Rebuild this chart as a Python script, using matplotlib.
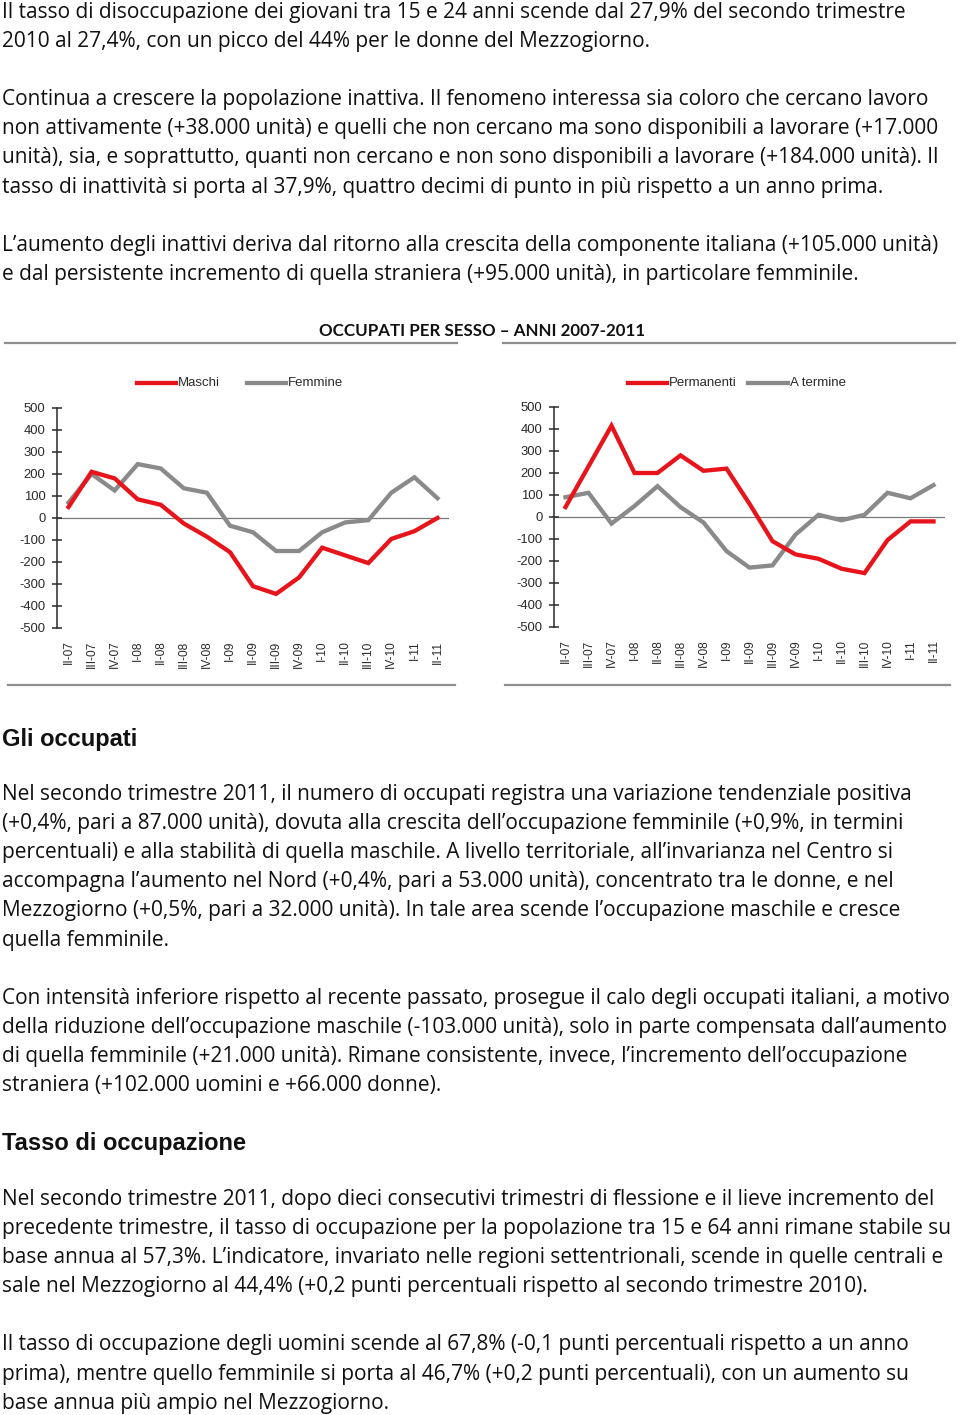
import matplotlib.pyplot as plt
from matplotlib.lines import Line2D

plt.rcParams['axes.unicode_minus'] = False

# quarters on the x axis
quarters = ['II-07', 'III-07', 'IV-07', 'I-08', 'II-08', 'III-08', 'IV-08',
            'I-09', 'II-09', 'III-09', 'IV-09', 'I-10', 'II-10', 'III-10',
            'IV-10', 'I-11', 'II-11']

# variazioni tendenziali (migliaia)
maschi = [50, 210, 180, 85, 60, -25, -85, -155, -310, -345, -270,
          -135, -170, -205, -95, -60, 0]
femmine = [70, 200, 125, 245, 225, 135, 115, -35, -65, -150, -150,
           -65, -20, -10, 115, 185, 90]
permanenti = [45, 230, 415, 200, 200, 280, 210, 220, 60, -110, -170,
              -190, -235, -255, -105, -20, -20]
a_termine = [90, 110, -30, 50, 140, 45, -25, -155, -230, -220, -80,
             10, -15, 10, 110, 85, 145]

y_ticks = [500, 400, 300, 200, 100, 0, -100, -200, -300, -400, -500]

title = 'OCCUPATI PER SESSO \u2013 ANNI 2007-2011'

par_top = [
    'Il tasso di disoccupazione dei giovani tra 15 e 24 anni scende dal 27,9% del secondo trimestre',
    '2010 al 27,4%, con un picco del 44% per le donne del Mezzogiorno.',
    None,
    'Continua a crescere la popolazione inattiva. Il fenomeno interessa sia coloro che cercano lavoro',
    'non attivamente (+38.000 unità) e quelli che non cercano ma sono disponibili a lavorare (+17.000',
    'unità), sia, e soprattutto, quanti non cercano e non sono disponibili a lavorare (+184.000 unità). Il',
    'tasso di inattività si porta al 37,9%, quattro decimi di punto in più rispetto a un anno prima.',
    None,
    'L\u2019aumento degli inattivi deriva dal ritorno alla crescita della componente italiana (+105.000 unità)',
    'e dal persistente incremento di quella straniera (+95.000 unità), in particolare femminile.',
]

par_occupati = [
    'Nel secondo trimestre 2011, il numero di occupati registra una variazione tendenziale positiva',
    '(+0,4%, pari a 87.000 unità), dovuta alla crescita dell\u2019occupazione femminile (+0,9%, in termini',
    'percentuali) e alla stabilità di quella maschile. A livello territoriale, all\u2019invarianza nel Centro si',
    'accompagna l\u2019aumento nel Nord (+0,4%, pari a 53.000 unità), concentrato tra le donne, e nel',
    'Mezzogiorno (+0,5%, pari a 32.000 unità). In tale area scende l\u2019occupazione maschile e cresce',
    'quella femminile.',
    None,
    'Con intensità inferiore rispetto al recente passato, prosegue il calo degli occupati italiani, a motivo',
    'della riduzione dell\u2019occupazione maschile (-103.000 unità), solo in parte compensata dall\u2019aumento',
    'di quella femminile (+21.000 unità). Rimane consistente, invece, l\u2019incremento dell\u2019occupazione',
    'straniera (+102.000 uomini e +66.000 donne).',
]

par_tasso = [
    'Nel secondo trimestre 2011, dopo dieci consecutivi trimestri di flessione e il lieve incremento del',
    'precedente trimestre, il tasso di occupazione per la popolazione tra 15 e 64 anni rimane stabile su',
    'base annua al 57,3%. L\u2019indicatore, invariato nelle regioni settentrionali, scende in quelle centrali e',
    'sale nel Mezzogiorno al 44,4% (+0,2 punti percentuali rispetto al secondo trimestre 2010).',
    None,
    'Il tasso di occupazione degli uomini scende al 67,8% (-0,1 punti percentuali rispetto a un anno',
    'prima), mentre quello femminile si porta al 46,7% (+0,2 punti percentuali), con un aumento su',
    'base annua più ampio nel Mezzogiorno.',
]

W, H = 960, 1415
RED = '#e8141b'
GREY = '#8a8a8a'
BODY_FONT = 'Open Sans'
LINE_STEP = 29.1

fig = plt.figure(figsize=(W / 100, H / 100), dpi=100)
renderer = fig.canvas.get_renderer()

# pick the body size so the first line is as wide as in the page (~904 px)
probe = fig.text(0, 0, par_top[0], fontsize=10, family=BODY_FONT)
probe_w = probe.get_window_extent(renderer).width
probe.remove()
BODY_SIZE = 10 * 904 / probe_w


def fx(x):
    return x / W


def fy(y):
    return 1 - y / H


def write_block(lines, y0):
    # one text per line, baseline positions in pixels
    y = y0
    for line in lines:
        if line:
            fig.text(fx(2), fy(y), line, fontsize=BODY_SIZE, family=BODY_FONT,
                     va='baseline', ha='left', color='#111111')
        y += LINE_STEP


def hline(x0, x1, y):
    fig.add_artist(Line2D([fx(x0), fx(x1)], [fy(y), fy(y)], color='#8f8f8f',
                          lw=1.6, transform=fig.transFigure))


write_block(par_top, 18)
write_block(par_occupati, 800)
write_block(par_tasso, 1205)

fig.text(fx(2), fy(746), 'Gli occupati', fontsize=17, family='Liberation Sans',
         weight='bold', va='baseline', color='#111111')
fig.text(fx(2), fy(1150), 'Tasso di occupazione', fontsize=17,
         family='Liberation Sans', weight='bold', va='baseline', color='#111111')

fig.text(fx(482), fy(336), title, fontsize=12.2, family='Lato', weight='bold',
         ha='center', va='baseline', color='#111111')

hline(5, 457, 343)
hline(503, 955, 343)
hline(8, 455, 685)
hline(505, 950, 685)


def draw_panel(left, right, top, bottom, s1, s2, lab1, lab2, leg):
    ax = fig.add_axes([fx(left), fy(bottom), fx(right) - fx(left),
                       fy(top) - fy(bottom)])
    x = range(len(quarters))
    ax.plot(x, s2, color=GREY, lw=3.1, solid_joinstyle='miter')
    ax.plot(x, s1, color=RED, lw=3.1, solid_joinstyle='miter')
    ax.axhline(0, color='#7a7a7a', lw=0.9, zorder=0)
    ax.set_xlim(-0.5, len(quarters) - 0.5)
    ax.set_ylim(-500, 500)
    ax.set_yticks(y_ticks)
    ax.set_xticks(list(x))
    ax.set_xticklabels(quarters, rotation=90, fontsize=8.6,
                       family='Liberation Sans', color='#2a2a2a')
    for lbl in ax.get_yticklabels():
        lbl.set_family('Liberation Sans')
    ax.tick_params(axis='y', direction='inout', length=7.7, width=1.1,
                   labelsize=9.4, colors='#2a2a2a', pad=4.5)
    ax.tick_params(axis='x', length=0, pad=9)
    for side in ['top', 'right', 'bottom']:
        ax.spines[side].set_visible(False)
    ax.spines['left'].set_color('#2a2a2a')
    ax.spines['left'].set_linewidth(1.1)
    ax.patch.set_alpha(0)

    # legend drawn by hand above the plot
    (r0, r1, t1), (g0, g1, t2) = leg
    for a, b, c in [(r0, r1, RED), (g0, g1, GREY)]:
        fig.add_artist(Line2D([fx(a), fx(b)], [fy(383), fy(383)], color=c,
                              lw=3.1, transform=fig.transFigure))
    fig.text(fx(t1), fy(383), lab1, fontsize=9.5, family='Liberation Sans',
             va='center', color='#2a2a2a')
    fig.text(fx(t2), fy(383), lab2, fontsize=9.5, family='Liberation Sans',
             va='center', color='#2a2a2a')
    return ax


draw_panel(57, 449, 408, 628, maschi, femmine, 'Maschi', 'Femmine',
           [(137, 176, 178), (247, 286, 288)])
draw_panel(554, 945, 407, 627, permanenti, a_termine, 'Permanenti', 'A termine',
           [(628, 667, 669), (748, 788, 790)])

fig.savefig('out.png', dpi=100)
